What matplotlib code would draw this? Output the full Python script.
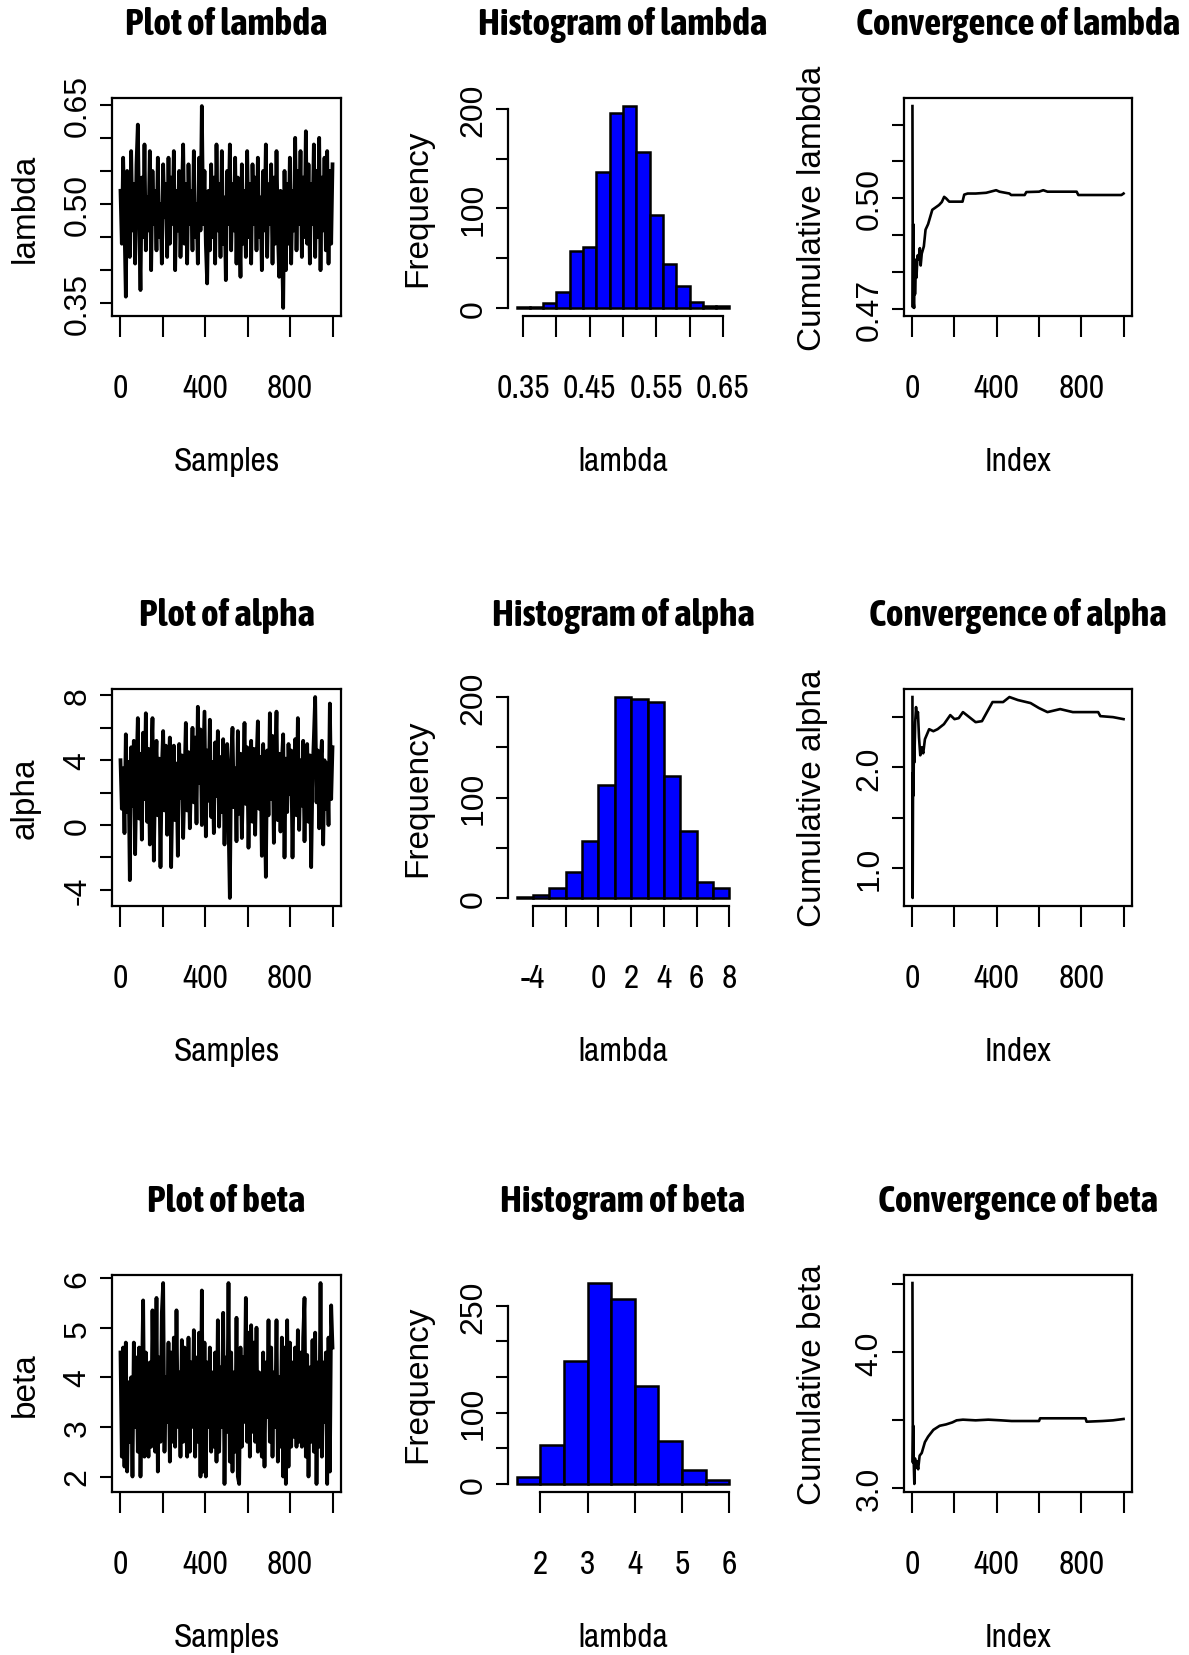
import numpy as np
import matplotlib
matplotlib.use('Agg')
import matplotlib.pyplot as plt

# fuentes: texto horizontal estrecho, texto girado normal
NARROW = ['Archivo Narrow', 'DejaVu Sans']
NARROW_BOLD = ['Asap Condensed', 'DejaVu Sans']
WIDE = ['Liberation Sans', 'DejaVu Sans']

# ---- trazas (muestras, cadena reducida) ----
lam_trace = [0.52, 0.44, 0.57, 0.47, 0.36, 0.55, 0.49, 0.42, 0.58, 0.46, 0.53, 0.41, 0.56, 0.62, 0.48, 0.37, 0.54, 0.45, 0.59, 0.43,
             0.51, 0.46, 0.58, 0.40, 0.55, 0.47, 0.52, 0.43, 0.57, 0.45, 0.50, 0.41, 0.56, 0.48, 0.53, 0.42, 0.57, 0.44, 0.54, 0.47,
             0.58, 0.40, 0.52, 0.46, 0.55, 0.42, 0.51, 0.59, 0.44, 0.53, 0.41, 0.56, 0.47, 0.52, 0.43, 0.58, 0.45, 0.50, 0.41, 0.57,
             0.46, 0.648, 0.47, 0.55, 0.44, 0.38, 0.52, 0.43, 0.56, 0.45, 0.54, 0.41, 0.59, 0.46, 0.53, 0.42, 0.58, 0.44, 0.51, 0.385,
             0.55, 0.47, 0.59, 0.43, 0.53, 0.46, 0.57, 0.41, 0.54, 0.48, 0.39, 0.56, 0.44, 0.52, 0.42, 0.58, 0.45, 0.53, 0.41, 0.56,
             0.47, 0.54, 0.43, 0.57, 0.45, 0.51, 0.40, 0.55, 0.46, 0.59, 0.42, 0.53, 0.47, 0.56, 0.41, 0.54, 0.44, 0.58, 0.46, 0.39,
             0.52, 0.45, 0.343, 0.55, 0.40, 0.53, 0.44, 0.57, 0.41, 0.52, 0.46, 0.60, 0.43, 0.55, 0.47, 0.58, 0.42, 0.54, 0.45, 0.61,
             0.44, 0.56, 0.41, 0.53, 0.47, 0.59, 0.42, 0.55, 0.45, 0.60, 0.40, 0.54, 0.46, 0.57, 0.43, 0.58, 0.41, 0.55, 0.44, 0.56]

alpha_trace = [4.0, 1.0, 3.5, -0.5, 5.6, 0.8, 3.9, -3.4, 4.8, 1.2, 5.2, -1.8, 3.3, 6.6, 0.4, 4.4, -0.9, 5.7, 1.6, 6.9,
               0.2, 4.7, -1.2, 3.6, 6.6, -2.2, 2.9, 5.2, 0.6, 4.1, -2.6, 3.5, 5.8, 0.9, 4.9, -0.6, 3.2, 5.4, -2.6, 2.4,
               4.9, 0.3, 3.8, -1.9, 5.0, 1.7, 4.3, -0.8, 2.8, 6.3, 0.9, 4.5, -0.2, 3.1, 6.0, 1.4, 5.4, 0.1, 7.3, 2.6,
               5.9, 0.0, 3.4, 7.0, -0.7, 4.6, 1.5, 6.5, 0.5, 3.9, -0.5, 5.1, 1.8, 5.8, -0.1, 4.2, 0.8, 5.3, -1.2, 3.7,
               5.0, 0.4, -4.5, 4.0, 6.0, 1.1, 3.5, -1.0, 5.8, 0.7, 4.4, -0.8, 3.0, 6.3, 1.3, 4.8, -1.4, 3.3, 5.2, 0.2,
               4.7, -0.6, 3.8, 6.4, 1.0, 4.2, -1.9, 5.0, 2.2, -3.2, 4.6, 0.6, 6.9, 1.6, 5.5, -1.1, 3.6, 7.0, 0.3, 4.4,
               -0.4, 3.9, 5.6, -2.0, 4.1, 0.8, 5.0, 1.9, 4.6, -2.0, 3.2, 5.3, 0.6, 6.6, -0.3, 4.0, 1.2, 5.2, -1.0, 3.5,
               5.0, 0.2, 4.3, -2.6, 3.1, 5.4, 7.9, 1.4, 4.6, -0.2, 3.7, 5.2, -1.2, 4.0, 1.0, 3.8, 0.0, 7.5, 1.6, 4.8]

beta_trace = [4.5, 2.4, 4.6, 2.2, 4.7, 2.1, 3.9, 2.7, 4.0, 2.0, 4.7, 3.0, 4.4, 2.5, 4.6, 2.0, 3.8, 5.55, 2.4, 4.5,
              3.2, 2.4, 4.3, 2.6, 5.35, 3.4, 2.5, 5.6, 2.1, 4.4, 2.7, 5.3, 5.9, 2.5, 4.0, 3.1, 4.7, 2.3, 4.5, 2.7,
              4.8, 2.6, 5.35, 3.0, 4.1, 2.4, 4.75, 2.7, 4.6, 3.3, 2.4, 4.8, 2.5, 4.3, 3.0, 4.95, 2.4, 4.4, 2.7, 4.9,
              2.0, 5.75, 2.1, 4.7, 2.0, 4.3, 3.0, 4.6, 2.5, 4.1, 2.6, 4.5, 2.3, 5.15, 2.5, 4.2, 3.0, 5.3, 1.85, 4.4,
              2.9, 5.9, 2.3, 4.5, 2.1, 4.1, 2.5, 5.2, 2.0, 1.85, 4.6, 2.6, 4.4, 3.1, 5.6, 2.7, 4.9, 2.4, 5.05, 2.9,
              4.7, 2.7, 5.0, 2.5, 4.1, 3.0, 2.4, 4.5, 2.2, 4.3, 3.2, 5.15, 2.7, 4.6, 2.4, 4.1, 3.0, 5.15, 2.3, 4.0,
              2.6, 4.8, 2.0, 4.6, 1.85, 5.15, 2.2, 4.7, 2.6, 4.3, 2.8, 4.6, 2.6, 4.95, 2.7, 4.5, 2.6, 4.8, 5.6, 2.4,
              4.45, 2.0, 4.2, 2.7, 4.75, 2.5, 4.9, 1.85, 4.3, 2.6, 5.9, 2.4, 4.3, 3.1, 4.5, 1.85, 4.8, 2.1, 5.45, 4.6]

# ---- histogramas (cortes y frecuencias) ----
lam_breaks = [0.34, 0.36, 0.38, 0.40, 0.42, 0.44, 0.46, 0.48, 0.50, 0.52, 0.54, 0.56, 0.58, 0.60, 0.62, 0.64, 0.66]
lam_counts = [1, 1, 5, 16, 57, 61, 137, 196, 203, 157, 93, 44, 22, 6, 2, 2]
alpha_breaks = [-5, -4, -3, -2, -1, 0, 1, 2, 3, 4, 5, 6, 7, 8]
alpha_counts = [1, 3, 10, 26, 57, 112, 200, 198, 195, 121, 67, 16, 10]
beta_breaks = [1.5, 2.0, 2.5, 3.0, 3.5, 4.0, 4.5, 5.0, 5.5, 6.0]
beta_counts = [10, 55, 173, 282, 260, 137, 60, 19, 5]

# ---- medias acumuladas ----
conv_lam_idx = [1, 3, 5, 7, 9, 11, 13, 16, 20, 25, 30, 36, 40, 45, 55, 63, 75, 95, 110, 127, 140, 151, 160, 175,
                200, 238, 246, 262, 300, 350, 397, 413, 460, 468, 532, 540, 600, 620, 640, 778, 786, 990, 1000]
conv_lam_val = [0.525, 0.4705, 0.493, 0.4715, 0.4703, 0.4835, 0.474, 0.4805, 0.4785, 0.4845, 0.4835, 0.4865, 0.4818,
                0.4850, 0.4870, 0.4915, 0.4930, 0.4969, 0.4975, 0.4982, 0.4990, 0.5004, 0.5000, 0.4991, 0.4991, 0.4991,
                0.5010, 0.5013, 0.5013, 0.5015, 0.5022, 0.5018, 0.5013, 0.5009, 0.5009, 0.5017, 0.5018, 0.5022, 0.5018,
                0.5018, 0.5009, 0.5009, 0.5013]
conv_alpha_idx = [1, 2, 4, 6, 8, 10, 14, 18, 22, 27, 32, 38, 45, 52, 60, 70, 80, 100, 120, 150, 180, 200, 220, 240,
                  270, 300, 330, 380, 430, 460, 500, 560, 600, 640, 700, 760, 880, 890, 950, 1000]
conv_alpha_val = [2.70, 0.70, 1.95, 1.72, 2.25, 2.05, 2.45, 2.60, 2.50, 2.55, 2.30, 2.12, 2.20, 2.14, 2.28, 2.33, 2.38,
                  2.36, 2.38, 2.43, 2.52, 2.48, 2.49, 2.55, 2.50, 2.45, 2.46, 2.65, 2.65, 2.70, 2.67, 2.64, 2.59, 2.55,
                  2.58, 2.55, 2.55, 2.51, 2.50, 2.48]
conv_beta_idx = [1, 3, 5, 7, 10, 13, 17, 22, 28, 35, 45, 60, 75, 100, 130, 160, 190, 210, 240, 300, 360, 420, 470,
                 600, 605, 820, 825, 900, 950, 1000]
conv_beta_val = [4.51, 3.19, 3.46, 3.20, 3.032, 3.22, 3.15, 3.20, 3.14, 3.24, 3.26, 3.34, 3.38, 3.43, 3.46, 3.47, 3.485,
                 3.50, 3.505, 3.50, 3.505, 3.50, 3.495, 3.495, 3.515, 3.515, 3.49, 3.495, 3.50, 3.51]

W, H = 1189, 1656
fig = plt.figure(figsize=(W / 100, H / 100), dpi=100)

cols = [(112, 341), (508, 738), (904, 1132)]
rows = [(99, 317), (690, 907), (1276, 1493)]
ylab_x = [25, 418, 812]


def make_ax(c, r):
    x0, x1 = cols[c]
    y0, y1 = rows[r]
    return fig.add_axes([x0 / W, 1 - y1 / H, (x1 - x0) / W, (y1 - y0) / H])


def r_range(lo, hi):
    # como R: rango ampliado un 4%
    pad = 0.04 * (hi - lo)
    return lo - pad, hi + pad


def decorate(ax, c, r, title, xlabel, ylabel, xticks, xlabels, yticks, ylabels):
    ax.set_xticks(xticks)
    ax.set_xticklabels(xlabels, family=NARROW, fontsize=24)
    ax.set_yticks(yticks)
    ax.set_yticklabels(ylabels, family=WIDE, fontsize=23, rotation=90, va='center')
    ax.tick_params(axis='x', direction='out', length=15, width=1.5, pad=26)
    ax.tick_params(axis='y', direction='out', length=9, width=1.5, pad=5)
    x0, x1 = cols[c]
    y0, y1 = rows[r]
    fig.text((x0 + x1) / 2 / W, 1 - (y0 - 74) / H, title, ha='center', va='center',
             family=NARROW_BOLD, fontweight='bold', fontsize=27)
    fig.text((x0 + x1) / 2 / W, 1 - (y1 + 145) / H, xlabel, ha='center', va='center',
             family=NARROW, fontsize=24)
    fig.text(ylab_x[c] / W, 1 - (y0 + y1) / 2 / H, ylabel, ha='center', va='center',
             rotation=90, family=WIDE, fontsize=24)


idx_ticks = [0, 200, 400, 600, 800, 1000]
idx_labels = ['0', '', '400', '', '800', '']


def trace_panel(r, vals, name, yticks, ylabels):
    ax = make_ax(0, r)
    x = np.linspace(1, 1000, len(vals))
    ax.plot(x, vals, color='black', lw=2.7)
    ax.set_xlim(r_range(1, 1000))
    ax.set_ylim(r_range(min(vals), max(vals)))
    for s in ax.spines.values():
        s.set_linewidth(1.6)
    decorate(ax, 0, r, 'Plot of ' + name, 'Samples', name, idx_ticks, idx_labels, yticks, ylabels)


def hist_panel(r, breaks, counts, name, xticks, xlabels, yticks, ylabels):
    ax = make_ax(1, r)
    ax.bar(breaks[:-1], counts, width=np.diff(breaks), align='edge',
           color='#0000ff', edgecolor='black', linewidth=1.8)
    ax.set_xlim(r_range(breaks[0], breaks[-1]))
    ax.set_ylim(r_range(0, max(counts)))
    ax.spines['top'].set_visible(False)
    ax.spines['right'].set_visible(False)
    ax.spines['left'].set_bounds(yticks[0], yticks[-1])
    ax.spines['bottom'].set_bounds(xticks[0], xticks[-1])
    ax.spines['left'].set_linewidth(1.6)
    ax.spines['bottom'].set_linewidth(1.6)
    decorate(ax, 1, r, 'Histogram of ' + name, 'lambda', 'Frequency', xticks, xlabels, yticks, ylabels)


def conv_panel(r, idx, vals, name, yticks, ylabels):
    ax = make_ax(2, r)
    ax.plot(idx, vals, color='black', lw=1.9)
    ax.set_xlim(r_range(1, 1000))
    ax.set_ylim(r_range(min(vals), max(vals)))
    for s in ax.spines.values():
        s.set_linewidth(1.6)
    decorate(ax, 2, r, 'Convergence of ' + name, 'Index', 'Cumulative ' + name,
             idx_ticks, idx_labels, yticks, ylabels)


trace_panel(0, lam_trace, 'lambda', [0.35, 0.40, 0.45, 0.50, 0.55, 0.60, 0.65],
            ['0.35', '', '', '0.50', '', '', '0.65'])
trace_panel(1, alpha_trace, 'alpha', [-4, -2, 0, 2, 4, 6, 8], ['-4', '', '0', '', '4', '', '8'])
trace_panel(2, beta_trace, 'beta', [2, 3, 4, 5, 6], ['2', '3', '4', '5', '6'])

hist_panel(0, lam_breaks, lam_counts, 'lambda', [0.35, 0.40, 0.45, 0.50, 0.55, 0.60, 0.65],
           ['0.35', '', '0.45', '', '0.55', '', '0.65'], [0, 50, 100, 150, 200], ['0', '', '100', '', '200'])
hist_panel(1, alpha_breaks, alpha_counts, 'alpha', [-4, -2, 0, 2, 4, 6, 8],
           ['-4', '', '0', '2', '4', '6', '8'], [0, 50, 100, 150, 200], ['0', '', '100', '', '200'])
hist_panel(2, beta_breaks, beta_counts, 'beta', [2, 3, 4, 5, 6], ['2', '3', '4', '5', '6'],
           [0, 50, 100, 150, 200, 250], ['0', '', '100', '', '', '250'])

conv_panel(0, conv_lam_idx, conv_lam_val, 'lambda', [0.47, 0.48, 0.49, 0.50, 0.51, 0.52],
           ['0.47', '', '', '0.50', '', ''])
conv_panel(1, conv_alpha_idx, conv_alpha_val, 'alpha', [1.0, 1.5, 2.0, 2.5], ['1.0', '', '2.0', ''])
conv_panel(2, conv_beta_idx, conv_beta_val, 'beta', [3.0, 3.5, 4.0, 4.5], ['3.0', '', '4.0', ''])

fig.savefig('out.png', dpi=100)
